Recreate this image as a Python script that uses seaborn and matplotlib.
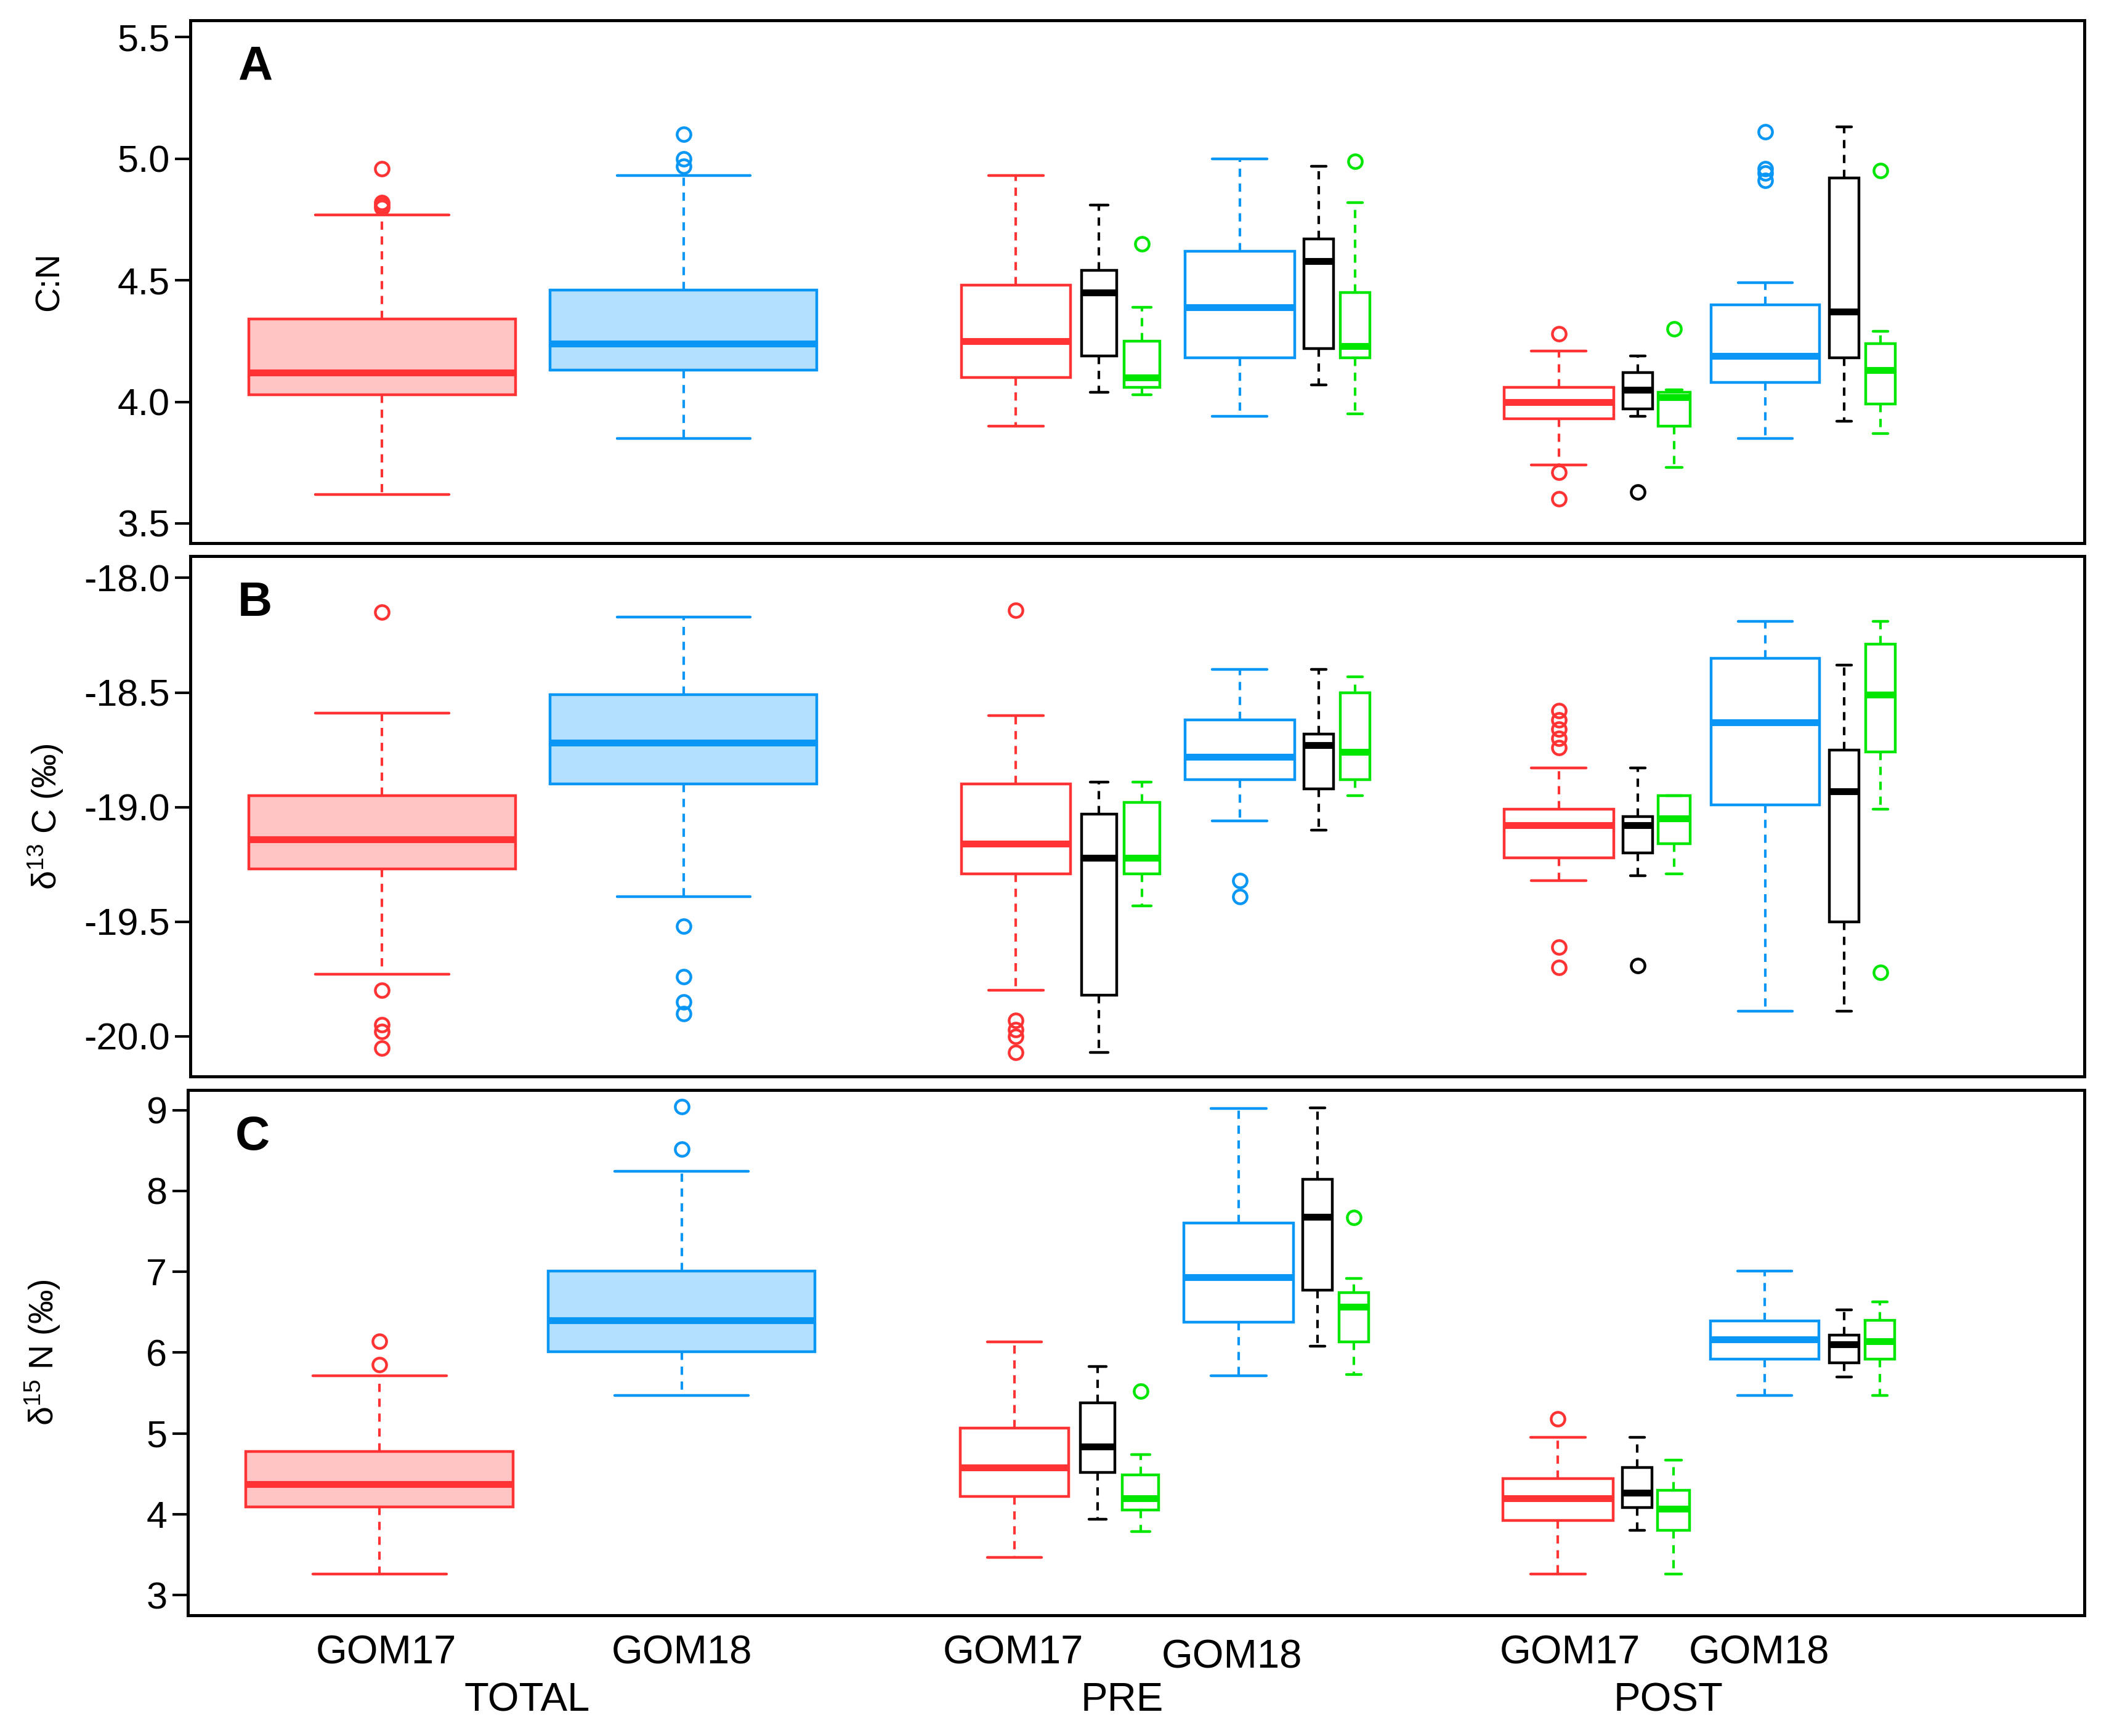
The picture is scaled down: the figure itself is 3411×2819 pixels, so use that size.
import matplotlib
matplotlib.use('Agg')
import matplotlib.pyplot as plt
import matplotlib.transforms as mtransforms
import seaborn as sns

# groups along the x axis (TOTAL, PRE, POST; GOM17 / GOM18 and their two subsets)
groups = ['TOTAL GOM17', 'TOTAL GOM18',
          'PRE GOM17', 'PRE GOM17 b', 'PRE GOM17 c',
          'PRE GOM18', 'PRE GOM18 b', 'PRE GOM18 c',
          'POST GOM17', 'POST GOM17 b', 'POST GOM17 c',
          'POST GOM18', 'POST GOM18 b', 'POST GOM18 c']

# A: C:N
cn_lo = [3.62, 3.85, 3.90, 4.04, 4.03, 3.94, 4.07, 3.95, 3.74, 3.94, 3.73, 3.85, 3.92, 3.87]
cn_q1 = [4.03, 4.13, 4.10, 4.19, 4.06, 4.18, 4.22, 4.18, 3.93, 3.97, 3.90, 4.08, 4.18, 3.99]
cn_med = [4.12, 4.24, 4.25, 4.45, 4.10, 4.39, 4.58, 4.23, 4.00, 4.05, 4.02, 4.19, 4.37, 4.13]
cn_q3 = [4.34, 4.46, 4.48, 4.54, 4.25, 4.62, 4.67, 4.45, 4.06, 4.12, 4.04, 4.40, 4.92, 4.24]
cn_hi = [4.77, 4.93, 4.93, 4.81, 4.39, 5.00, 4.97, 4.82, 4.21, 4.19, 4.05, 4.49, 5.13, 4.29]
cn_out = [[4.96, 4.82, 4.81, 4.80], [5.10, 5.00, 4.97], [], [], [4.65], [], [], [4.99],
          [4.28, 3.71, 3.60], [3.63], [4.30], [5.11, 4.96, 4.94, 4.91], [], [4.95]]

# B: d13C
d13c_lo = [-19.73, -19.39, -19.80, -20.07, -19.43, -19.06, -19.10, -18.95, -19.32, -19.30, -19.29, -19.89, -19.89, -19.01]
d13c_q1 = [-19.27, -18.90, -19.29, -19.82, -19.29, -18.88, -18.92, -18.88, -19.22, -19.20, -19.16, -18.99, -19.50, -18.76]
d13c_med = [-19.14, -18.72, -19.16, -19.22, -19.22, -18.78, -18.73, -18.76, -19.08, -19.08, -19.05, -18.63, -18.93, -18.51]
d13c_q3 = [-18.95, -18.51, -18.90, -19.03, -18.98, -18.62, -18.68, -18.50, -19.01, -19.04, -18.95, -18.35, -18.75, -18.29]
d13c_hi = [-18.59, -18.17, -18.60, -18.89, -18.89, -18.40, -18.40, -18.43, -18.83, -18.83, -18.95, -18.19, -18.38, -18.19]
d13c_out = [[-18.15, -19.80, -19.95, -19.98, -20.05], [-19.52, -19.74, -19.85, -19.90],
            [-18.14, -19.93, -19.97, -20.00, -20.07], [], [], [-19.32, -19.39], [], [],
            [-18.58, -18.62, -18.66, -18.70, -18.74, -19.61, -19.70], [-19.69], [], [], [], [-19.72]]

# C: d15N
d15n_lo = [3.26, 5.47, 3.47, 3.94, 3.79, 5.71, 6.08, 5.73, 3.26, 3.80, 3.26, 5.47, 5.70, 5.47]
d15n_q1 = [4.09, 6.01, 4.22, 4.52, 4.05, 6.38, 6.77, 6.13, 3.92, 4.08, 3.80, 5.92, 5.87, 5.92]
d15n_med = [4.37, 6.40, 4.58, 4.84, 4.20, 6.93, 7.68, 6.57, 4.20, 4.27, 4.07, 6.16, 6.10, 6.14]
d15n_q3 = [4.78, 7.01, 5.07, 5.38, 4.49, 7.60, 8.14, 6.74, 4.44, 4.58, 4.30, 6.39, 6.22, 6.40]
d15n_hi = [5.71, 8.24, 6.13, 5.83, 4.74, 9.02, 9.03, 6.92, 4.95, 4.95, 4.67, 7.01, 6.53, 6.63]
d15n_out = [[6.14, 5.85], [9.04, 8.52], [], [], [5.52], [], [], [7.67], [5.18], [], [], [], [], []]

# layout / styling
positions = [1.43, 3.68, 6.16, 6.78, 7.10, 7.83, 8.42, 8.69, 10.21, 10.80, 11.07, 11.75, 12.34, 12.61]
widths = [1.99, 1.99, 0.81, 0.26, 0.27, 0.82, 0.22, 0.22, 0.82, 0.22, 0.24, 0.81, 0.22, 0.22]
RED, BLUE, GREEN, BLACK = '#FF3333', '#0A96F5', '#00E600', '#000000'
colors = [RED, BLUE, RED, BLACK, GREEN, BLUE, BLACK, GREEN, RED, BLACK, GREEN, BLUE, BLACK, GREEN]
fills = ['#FFC4C4', '#B3E0FC'] + ['none'] * 12

sns.set_theme(style='ticks')
plt.rcParams['font.family'] = ['Liberation Sans', 'DejaVu Sans']
plt.rcParams['mathtext.fontset'] = 'custom'
plt.rcParams['mathtext.rm'] = 'Liberation Sans'
plt.rcParams['mathtext.default'] = 'regular'
plt.rcParams['axes.edgecolor'] = 'black'

fig = plt.figure(figsize=(17.06, 14.095), dpi=200)
fig.patch.set_facecolor('white')

panels = [
    ('A', 'C:N', (cn_lo, cn_q1, cn_med, cn_q3, cn_hi, cn_out),
     [3.5, 4.0, 4.5, 5.0, 5.5], '%.1f', (3.42, 5.57), [0.0906, 0.6873, 0.9011, 0.3011]),
    ('B', 'δ$^{13}$ C (‰)', (d13c_lo, d13c_q1, d13c_med, d13c_q3, d13c_hi, d13c_out),
     [-20.0, -19.5, -19.0, -18.5, -18.0], '%.1f', (-20.175, -17.906), [0.0906, 0.3799, 0.9011, 0.2996]),
    ('C', 'δ$^{15}$ N (‰)', (d15n_lo, d15n_q1, d15n_med, d15n_q3, d15n_hi, d15n_out),
     [3, 4, 5, 6, 7, 8, 9], '%d', (2.75, 9.25), [0.0893, 0.0695, 0.9024, 0.3027]),
]

axes = []
for letter, ylab, (lo, q1, med, q3, hi, out), yticks, fmt, ylim, rect in panels:
    ax = fig.add_axes(rect)
    ax.set_facecolor('white')
    for i in range(len(groups)):
        stats = [dict(whislo=lo[i], q1=q1[i], med=med[i], q3=q3[i], whishi=hi[i],
                      fliers=out[i], label=groups[i])]
        c = colors[i]
        ax.bxp(stats, positions=[positions[i]], widths=[widths[i]],
               capwidths=[widths[i] * 0.5], patch_artist=True, manage_ticks=False,
               boxprops=dict(facecolor=fills[i], edgecolor=c, linewidth=1.6),
               medianprops=dict(color=c, linewidth=4.0, solid_capstyle='butt'),
               whiskerprops=dict(color=c, linewidth=1.5, linestyle=(0, (3.2, 2.6))),
               capprops=dict(color=c, linewidth=1.6),
               flierprops=dict(marker='o', markerfacecolor='none', markeredgecolor=c,
                               markersize=8, markeredgewidth=1.6))
    ax.set_xlim(0, 14.13)
    ax.set_ylim(*ylim)
    ax.set_yticks(yticks)
    ax.set_yticklabels([fmt % t for t in yticks])
    ax.set_xticks([])
    ax.tick_params(axis='y', direction='out', length=9, width=1.5, labelsize=22,
                   pad=3, colors='black')
    for s in ax.spines.values():
        s.set_visible(True)
        s.set_linewidth(1.8)
        s.set_color('black')
    ax.set_ylabel(ylab, fontsize=20, color='black')
    ax.yaxis.set_label_coords(-0.066, 0.5)
    ax.text(0.034, 0.91, letter, transform=ax.transAxes, fontsize=28,
            fontweight='bold', ha='center', va='center', color='black')
    axes.append(ax)

# category labels under the bottom panel
ax = axes[-1]
trans = mtransforms.blended_transform_factory(ax.transData, ax.transAxes)
for x, y, t in [(1.48, -0.072, 'GOM17'), (3.68, -0.072, 'GOM18'), (2.53, -0.162, 'TOTAL'),
                (6.15, -0.072, 'GOM17'), (7.78, -0.080, 'GOM18'), (6.96, -0.162, 'PRE'),
                (10.30, -0.072, 'GOM17'), (11.71, -0.072, 'GOM18'), (11.03, -0.162, 'POST')]:
    ax.text(x, y, t, transform=trans, fontsize=23.5, ha='center', va='center', color='black')

fig.savefig('out.png', dpi=200, facecolor='white')
